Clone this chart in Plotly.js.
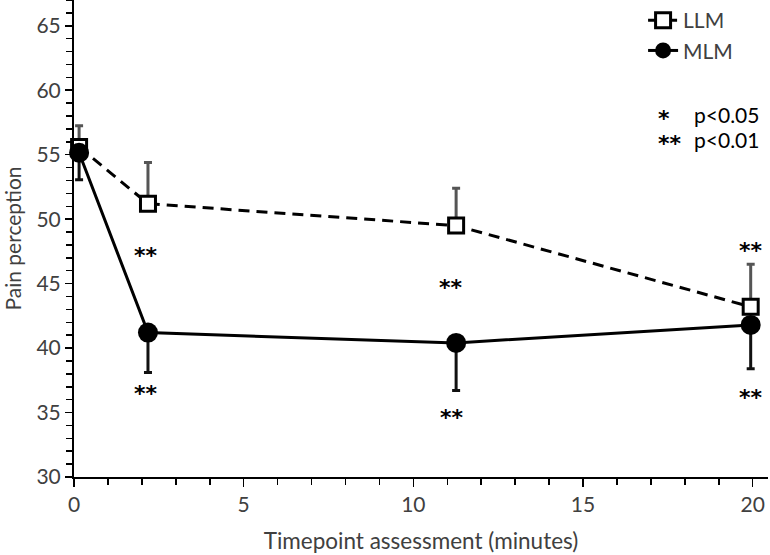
<!DOCTYPE html>
<html>
<head>
<meta charset="utf-8">
<script src="https://cdn.plot.ly/plotly-3.0.1.min.js"></script>
<style>
  html, body { margin: 0; padding: 0; background: #fff; }
  #chart { width: 770px; height: 555px; }
</style>
</head>
<body>
<div id="chart"></div>
<script>
"use strict";
// values
var times = [0.15, 2.18, 11.26, 19.94];
var llmMean = [55.6, 51.2, 49.5, 43.2];
var llmErr = [1.65, 3.2, 2.9, 3.3];
var mlmMean = [55.15, 41.2, 40.4, 41.8];
var mlmErr = [2.1, 3.1, 3.7, 3.4];

// significance marks
var starX = [2.12, 2.12, 11.1, 11.15, 19.94, 19.94];
var starY = [47.2, 36.5, 44.7, 34.6, 47.6, 36.2];
var starText = ["**", "**", "**", "**", "**", "**"];

var keyStars = ["*", "**"];
var keyLabels = ["p<0.05", "p<0.01"];
var keyY = [58.1, 56.2];

var font = "Lato, 'Open Sans', sans-serif";
var starFont = "'DejaVu Sans', sans-serif";

var llm = {
    x: times, y: llmMean, name: "LLM", type: "scatter", mode: "lines+markers",
    line: { color: "#000", width: 3, dash: "11px,7px" },
    marker: { symbol: "square", size: 15, color: "#fff", line: { color: "#000", width: 3 } },
    error_y: { type: "data", array: llmErr, arrayminus: [0, 0, 0, 0], color: "#555", thickness: 3, width: 4 },
    cliponaxis: false
};
var mlm = {
    x: times, y: mlmMean, name: "MLM", type: "scatter", mode: "lines+markers",
    line: { color: "#000", width: 3 },
    marker: { symbol: "circle", size: 20, color: "#000" },
    error_y: { type: "data", array: [0, 0, 0, 0], arrayminus: mlmErr, color: "#111", thickness: 3, width: 4 },
    cliponaxis: false
};

var annotations = [];
for (var i = 0; i < starX.length; i++) {
    annotations.push({
        x: starX[i], y: starY[i], text: "<b>" + starText[i] + "</b>", showarrow: false,
        font: { family: starFont, size: 22, color: "#000" }
    });
}
for (var k = 0; k < keyStars.length; k++) {
    annotations.push({
        x: 17.15, y: keyY[k] - 0.3, text: "<b>" + keyStars[k] + "</b>", showarrow: false, xanchor: "left",
        font: { family: starFont, size: 22, color: "#000" }
    });
    annotations.push({
        x: 18.2, y: keyY[k], text: keyLabels[k], showarrow: false, xanchor: "left",
        font: { family: font, size: 21, color: "#000" }
    });
}

var layout = {
    width: 770, height: 555,
    margin: { l: 74, r: 2, t: 0, b: 78 },
    paper_bgcolor: "#fff", plot_bgcolor: "#fff",
    font: { family: font, size: 21, color: "#404040" },
    showlegend: true,
    legend: {
        x: 0.82, y: 1.0, xanchor: "left", yanchor: "top",
        bgcolor: "rgba(0,0,0,0)", font: { family: font, size: 21, color: "#404040" },
        itemwidth: 30, tracegroupgap: 0
    },
    xaxis: {
        range: [0, 20.45], showgrid: false, zeroline: false,
        showline: true, linecolor: "#000", linewidth: 2,
        tick0: 0, dtick: 5, ticks: "outside", ticklen: 8, tickwidth: 1.5, tickcolor: "#000",
        minor: { tick0: 0, dtick: 1, ticks: "outside", ticklen: 6, tickwidth: 1.5, tickcolor: "#000" },
        tickfont: { family: font, size: 21, color: "#404040" },
        title: { text: "Timepoint assessment (minutes)", font: { family: font, size: 22.5, color: "#404040" }, standoff: 18 }
    },
    yaxis: {
        range: [30, 67], showgrid: false, zeroline: false,
        showline: true, linecolor: "#000", linewidth: 2,
        tick0: 30, dtick: 5, ticks: "outside", ticklen: 7, tickwidth: 1.5, tickcolor: "#000",
        minor: { tick0: 30, dtick: 1, ticks: "outside", ticklen: 6, tickwidth: 1.5, tickcolor: "#000" },
        tickfont: { family: font, size: 21, color: "#404040" },
        title: { text: "Pain perception", font: { family: font, size: 21, color: "#404040" }, standoff: 10 }
    },
    annotations: annotations
};

Plotly.newPlot("chart", [llm, mlm], layout, { displayModeBar: false, staticPlot: true });
</script>
</body>
</html>
